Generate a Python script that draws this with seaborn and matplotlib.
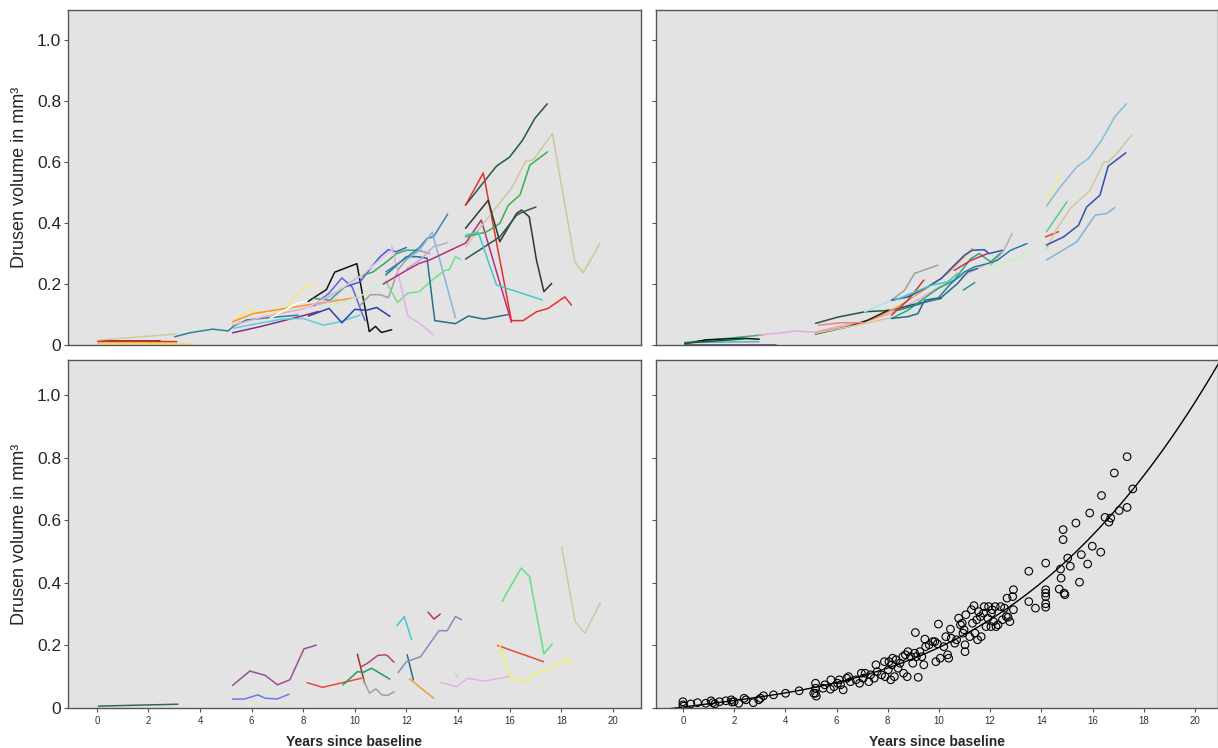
import numpy as np
import pandas as pd
import seaborn as sns
import matplotlib
import matplotlib.pyplot as plt
matplotlib.use('Agg')

# ---- top-left: individual trajectories (group A) ----
tl_x = [
    [0.05, 2.44], [0.05, 1.5, 3.09], [0.05, 3.09], [0.12, 3.73], [0.05, 3.09],
    [3.02, 3.6, 4.5, 5.09, 5.3, 5.8, 6.7, 7.8],
    [5.26, 5.93, 6.7, 7.3, 7.94, 8.1, 8.52],
    [5.26, 6.06, 7.1, 8.13, 9.03, 10.07, 10.2],
    [5.26, 6.45, 7.74, 8.5, 9.3],
    [5.26, 6.32, 7.94, 8.6],
    [5.3, 6.2, 7.2, 8.0, 8.78, 9.42, 10.2],
    [6.71, 7.74, 8.26],
    [8.19, 8.9, 9.22, 10.08, 10.56, 10.8, 11.03, 11.43],
    [8.4, 9.0, 9.5, 9.9, 10.3, 10.4],
    [8.2, 9.0, 9.5, 10.0, 10.45, 10.85, 11.36],
    [8.8, 9.6, 10.2, 10.6, 10.97, 11.3, 11.6, 12.0],
    [8.39, 9.03, 9.68, 10.2, 10.71, 11.23, 11.62, 12.0, 12.52],
    [10.2, 10.6, 11.0, 11.3, 11.7, 12.2, 12.5, 12.9],
    [8.6, 9.5, 10.2, 11.0, 11.6],
    [8.0, 9.2, 10.2, 11.5],
    [11.2, 11.65, 12.05, 12.5, 12.95, 13.5, 13.65, 13.9, 14.1],
    [11.43, 12.06, 12.52, 13.04],
    [11.2, 11.6, 12.0, 12.4, 12.8, 13.1, 13.9, 14.4, 15.0, 15.95],
    [11.2, 11.9, 12.5, 12.8, 13.05, 13.6],
    [12.0, 12.5, 13.0, 13.9],
    [12.0, 12.54, 13.04, 13.58],
    [11.1, 12.0, 12.5, 12.9, 14.3, 14.9, 16.07],
    [14.29, 14.96, 15.49, 16.0, 16.5, 16.98, 17.46],
    [14.29, 14.98, 16.07, 16.52, 17.04, 17.49, 18.14, 18.40],
    [14.29, 14.78, 15.49, 16.07, 16.63, 16.91, 17.66, 18.53, 18.85, 19.5],
    [14.29, 15.1, 15.62, 15.95, 16.4, 16.78, 17.47],
    [14.29, 15.17, 15.62, 16.27, 16.46, 16.76, 17.04, 17.33, 17.63],
    [14.29, 15.62, 16.27, 16.52, 17.02],
    [14.29, 14.78, 15.49, 17.26],
]
tl_y = [
    [0.014, 0.014], [0.012, 0.012, 0.011], [0.008, 0.008], [0.003, 0.003], [0.016, 0.036],
    [0.027, 0.040, 0.052, 0.046, 0.062, 0.082, 0.090, 0.098],
    [0.076, 0.117, 0.095, 0.12, 0.182, 0.193, 0.198],
    [0.076, 0.103, 0.117, 0.131, 0.142, 0.156, 0.158],
    [0.065, 0.092, 0.114, 0.13, 0.15],
    [0.040, 0.060, 0.095, 0.11],
    [0.055, 0.07, 0.085, 0.087, 0.065, 0.076, 0.098],
    [0.087, 0.136, 0.147],
    [0.143, 0.182, 0.239, 0.267, 0.044, 0.061, 0.041, 0.050],
    [0.13, 0.17, 0.22, 0.19, 0.10, 0.08],
    [0.095, 0.12, 0.073, 0.117, 0.114, 0.123, 0.094],
    [0.15, 0.19, 0.207, 0.251, 0.289, 0.313, 0.306, 0.32],
    [0.153, 0.147, 0.196, 0.226, 0.240, 0.273, 0.300, 0.311, 0.311],
    [0.13, 0.165, 0.165, 0.155, 0.25, 0.30, 0.31, 0.30],
    [0.12, 0.14, 0.16, 0.2, 0.22],
    [0.115, 0.17, 0.224, 0.317],
    [0.21, 0.14, 0.17, 0.175, 0.21, 0.246, 0.246, 0.29, 0.28],
    [0.325, 0.094, 0.071, 0.033],
    [0.23, 0.26, 0.29, 0.29, 0.285, 0.08, 0.07, 0.095, 0.085, 0.10],
    [0.24, 0.28, 0.32, 0.35, 0.355, 0.43],
    [0.28, 0.31, 0.37, 0.09],
    [0.25, 0.28, 0.322, 0.336],
    [0.20, 0.245, 0.268, 0.279, 0.335, 0.41, 0.075],
    [0.459, 0.531, 0.587, 0.617, 0.672, 0.744, 0.792],
    [0.459, 0.565, 0.08, 0.08, 0.109, 0.12, 0.158, 0.131],
    [0.322, 0.377, 0.453, 0.514, 0.604, 0.607, 0.694, 0.273, 0.237, 0.333],
    [0.355, 0.371, 0.399, 0.459, 0.492, 0.590, 0.634],
    [0.383, 0.475, 0.339, 0.432, 0.443, 0.421, 0.279, 0.175, 0.202],
    [0.282, 0.355, 0.426, 0.437, 0.453],
    [0.361, 0.371, 0.197, 0.148],
]
tl_colors = [
    "#111111", "#e03020", "#f5a030", "#f0e070", "#d2c8a0", "#2f7f9f", "#f5e87a",
    "#f39a1e", "#e6a8d0", "#8b2a8b", "#5ccfd8", "#ffffff", "#111111", "#5a64e0",
    "#2c3fa8", "#3e5ec8", "#3aa75a", "#a0a0a0", "#c8f0c0", "#f0c4ec", "#6ee08a",
    "#e0b0e8", "#2b6e8a", "#3a86c0", "#86b6dc", "#c0a6e0", "#b2307e", "#1f5a40",
    "#e8302a", "#ccc89c", "#3cb04a", "#333333", "#2a5a4a", "#45c8c8",
]

# ---- top-right: individual trajectories (group B) ----
tr_x = [
    [0.07, 3.11], [0.07, 0.91, 2.34, 2.98], [0.07, 2.98], [0.07, 2.4], [0.07, 3.63],
    [2.98, 3.76, 4.4, 5.18, 6.0, 7.0, 8.0, 9.0, 10.0, 11.25, 11.77],
    [5.18, 6.08, 7.11, 8.15, 9.05, 10.09],
    [5.18, 6.47, 7.5, 8.4, 9.44, 10.34, 11.31],
    [5.18, 6.47, 7.24, 8.02],
    [5.18, 6.5, 8.15],
    [5.3, 6.2, 7.1],
    [7.1, 8.15, 9.0],
    [8.15, 8.66, 9.05, 9.96],
    [12.02, 12.54, 12.86],
    [8.15, 8.79, 9.41],
    [8.15, 8.79, 9.44, 10.09, 10.54, 11.0, 11.31, 11.77, 11.96, 12.48],
    [8.15, 8.79, 9.31, 9.96, 10.6, 11.25, 11.57, 12.02, 12.41],
    [8.15, 8.79, 9.18, 9.44, 10.09, 10.73, 11.12, 11.5],
    [8.41, 9.31, 9.96, 10.47, 11.0, 11.38, 11.89, 12.28, 12.8, 13.44],
    [8.28, 8.92, 9.7, 10.34, 10.73],
    [10.6, 11.25, 11.9],
    [10.95, 11.4],
    [11.77, 13.06, 14.16],
    [14.2, 14.74, 15.39, 15.84, 16.35, 16.87, 17.32],
    [14.2, 14.8],
    [14.2, 15.0],
    [14.16, 14.67],
    [14.2, 14.61, 15.13, 15.9, 16.44, 16.61, 17.0, 17.52],
    [14.2, 14.87, 15.45, 15.77, 16.29, 16.61, 17.3],
    [14.2, 15.39, 16.1, 16.55, 16.87],
]
tr_y = [
    [0.008, 0.033], [0.004, 0.017, 0.022, 0.019], [0.008, 0.011], [0.006, 0.02], [0.0015, 0.0015],
    [0.033, 0.039, 0.046, 0.042, 0.06, 0.075, 0.1, 0.14, 0.19, 0.24, 0.262],
    [0.071, 0.092, 0.109, 0.114, 0.134, 0.153],
    [0.040, 0.062, 0.087, 0.125, 0.182, 0.235, 0.317],
    [0.036, 0.060, 0.082, 0.114],
    [0.038, 0.06, 0.09],
    [0.065, 0.073, 0.073],
    [0.109, 0.147, 0.16],
    [0.147, 0.180, 0.235, 0.262],
    [0.262, 0.311, 0.366],
    [0.098, 0.147, 0.213],
    [0.147, 0.158, 0.185, 0.218, 0.257, 0.295, 0.311, 0.313, 0.300, 0.311],
    [0.087, 0.114, 0.147, 0.185, 0.213, 0.284, 0.300, 0.273, 0.302],
    [0.087, 0.093, 0.103, 0.147, 0.156, 0.202, 0.240, 0.251],
    [0.114, 0.136, 0.153, 0.202, 0.240, 0.256, 0.267, 0.278, 0.311, 0.333],
    [0.147, 0.169, 0.196, 0.207, 0.235],
    [0.245, 0.278, 0.3],
    [0.18, 0.205],
    [0.245, 0.284, 0.333],
    [0.456, 0.519, 0.585, 0.612, 0.672, 0.749, 0.792],
    [0.47, 0.563],
    [0.372, 0.47],
    [0.355, 0.372],
    [0.317, 0.382, 0.448, 0.508, 0.601, 0.601, 0.634, 0.689],
    [0.328, 0.355, 0.393, 0.453, 0.492, 0.587, 0.631],
    [0.279, 0.339, 0.426, 0.432, 0.451],
]
tr_colors = [
    "#3cb371", "#111111", "#40c0c0", "#1f5a40", "#6b2d6b", "#e8a8e0", "#1f5a40",
    "#f5a030", "#222222", "#d2c8a0", "#f08080", "#a8e4f0", "#a0a0a0", "#b0b0b0",
    "#d03030", "#3050b0", "#2eaa6a", "#1f6f80", "#2a7aa8", "#40c8c8", "#c03070",
    "#2a90b0", "#c8f0c0", "#86bcd8", "#f0f080", "#50d080", "#e04030", "#d0c8a0",
    "#3050b0", "#80b4d8",
]

# ---- bottom-left: individual trajectories (group C) ----
bl_x = [
    [0.06, 3.14],
    [5.26, 5.93, 6.53, 7.0, 7.48, 8.03, 8.51],
    [5.26, 5.74, 6.24, 6.53, 7.0, 7.45],
    [8.15, 8.75, 10.25],
    [10.1, 10.38],
    [9.54, 10.1, 10.33, 10.65, 11.36],
    [10.25, 10.49, 10.89, 11.2, 11.28, 11.52],
    [10.33, 10.57, 10.81, 11.05, 11.28, 11.52],
    [11.63, 11.92, 12.2],
    [12.03, 12.27],
    [12.12, 13.06],
    [11.68, 12.0, 12.55, 13.26, 13.58, 13.9, 14.14],
    [12.84, 13.07, 13.31],
    [13.31, 13.95, 14.37, 15.01, 15.96],
    [13.9, 13.98],
    [15.53, 17.31],
    [15.59, 16.04, 16.59, 16.99, 17.62, 18.18, 18.42],
    [15.72, 15.85, 16.45, 16.77, 17.33, 17.65],
    [18.02, 18.54, 18.92, 19.52],
]
bl_y = [
    [0.006, 0.012],
    [0.072, 0.118, 0.104, 0.074, 0.090, 0.189, 0.201],
    [0.028, 0.029, 0.042, 0.031, 0.029, 0.044],
    [0.081, 0.066, 0.095],
    [0.172, 0.079],
    [0.074, 0.116, 0.114, 0.127, 0.092],
    [0.132, 0.143, 0.168, 0.170, 0.166, 0.146],
    [0.090, 0.047, 0.061, 0.042, 0.040, 0.052],
    [0.263, 0.292, 0.218],
    [0.170, 0.090],
    [0.093, 0.031],
    [0.113, 0.148, 0.164, 0.247, 0.247, 0.292, 0.282],
    [0.306, 0.284, 0.300],
    [0.082, 0.068, 0.095, 0.086, 0.100],
    [0.11, 0.095],
    [0.2, 0.148],
    [0.207, 0.095, 0.082, 0.111, 0.127, 0.159, 0.136],
    [0.34, 0.362, 0.447, 0.42, 0.173, 0.204],
    [0.514, 0.276, 0.239, 0.337],
]
bl_colors = [
    "#2e6b4a", "#9b4f8f", "#6a7ae8", "#e84a3a", "#a0302a", "#2a9a5a", "#c0407a",
    "#a0a0a0", "#40c8d0", "#2a6a8a", "#f0a030", "#8a8ac0", "#c0305a", "#e8b0e0",
    "#d0d0d0", "#e84a3a", "#f0f060", "#60e080", "#d0c8a0",
]

# ---- bottom-right: all observations ----
sc_x = [0, 0, 0.03, 0.31, 0.57, 0.89, 1.10, 1.17, 1.25, 1.43, 1.68, 1.89, 1.92, 2.00, 2.18,
        2.39, 2.46, 2.75, 2.96, 3.03, 3.15, 3.54, 4.01, 4.54,
        5.18, 5.18, 5.18, 5.21, 5.11, 5.47, 5.54, 5.76, 5.78, 5.90, 6.04, 6.11, 6.16, 6.26,
        6.40, 6.47, 6.54, 6.76, 6.90, 6.97, 7.04, 7.12, 7.26, 7.33, 7.47, 7.54, 7.59, 7.76,
        7.87, 7.90, 8.02, 8.05, 8.12, 8.16, 8.19, 8.26, 8.33, 8.40, 8.48, 8.59, 8.62, 8.69,
        8.76, 8.79, 8.90, 8.98, 9.05, 9.08, 9.12, 9.19, 9.26, 9.33, 9.41, 9.45, 9.48, 9.62,
        9.76, 9.84, 9.88, 9.94, 9.98, 10.05, 10.19, 10.27, 10.34, 10.38, 10.45, 10.48, 10.62,
        10.69, 10.77, 10.84, 10.91, 10.94, 10.98, 11.02, 11.02, 11.05, 11.20, 11.27, 11.31,
        11.37, 11.41, 11.48, 11.51, 11.55, 11.62, 11.65, 11.74, 11.77, 11.84, 11.91, 11.94,
        12.03, 12.05, 12.08, 12.13, 12.20, 12.23, 12.31, 12.41, 12.48, 12.56, 12.63, 12.66,
        12.70, 12.77, 12.88, 12.91, 12.91, 13.51, 13.51, 13.77, 14.17, 14.17, 14.17, 14.17,
        14.17, 14.17, 14.70, 14.75, 14.77, 14.85, 14.85, 14.89, 14.92, 15.03, 15.13, 15.35,
        15.49, 15.56, 15.81, 15.89, 15.99, 16.32, 16.35, 16.49, 16.64, 16.71, 16.85, 17.04,
        17.35, 17.35, 17.57]
sc_y = [0.020, 0.010, 0.006, 0.013, 0.017, 0.015, 0.023, 0.017, 0.013, 0.020, 0.023, 0.026,
        0.019, 0.020, 0.015, 0.031, 0.026, 0.017, 0.026, 0.031, 0.039, 0.042, 0.047, 0.055,
        0.079, 0.063, 0.047, 0.038, 0.047, 0.063, 0.074, 0.060, 0.090, 0.068, 0.079, 0.090,
        0.074, 0.058, 0.095, 0.100, 0.084, 0.090, 0.079, 0.111, 0.095, 0.111, 0.084, 0.106,
        0.095, 0.138, 0.116, 0.106, 0.148, 0.100, 0.122, 0.148, 0.090, 0.138, 0.159, 0.100,
        0.154, 0.127, 0.143, 0.164, 0.111, 0.170, 0.100, 0.180, 0.164, 0.143, 0.175, 0.241,
        0.164, 0.098, 0.180, 0.164, 0.138, 0.220, 0.196, 0.202, 0.212, 0.212, 0.148, 0.205,
        0.268, 0.159, 0.196, 0.228, 0.170, 0.159, 0.252, 0.223, 0.207, 0.218, 0.287, 0.266,
        0.271, 0.239, 0.250, 0.202, 0.180, 0.298, 0.228, 0.314, 0.271, 0.327, 0.239, 0.282,
        0.218, 0.308, 0.292, 0.228, 0.303, 0.324, 0.260, 0.287, 0.324, 0.260, 0.303, 0.314,
        0.276, 0.324, 0.260, 0.266, 0.324, 0.282, 0.319, 0.292, 0.351, 0.290, 0.276, 0.356,
        0.378, 0.314, 0.437, 0.340, 0.319, 0.463, 0.378, 0.367, 0.356, 0.333, 0.322, 0.380,
        0.444, 0.415, 0.538, 0.570, 0.367, 0.362, 0.479, 0.453, 0.591, 0.402, 0.490, 0.460,
        0.623, 0.517, 0.498, 0.679, 0.609, 0.594, 0.607, 0.751, 0.631, 0.641, 0.803, 0.700]

y_ticks = [0, 0.2, 0.4, 0.6, 0.8, 1.0]
y_ticklabels = ["0", "0.2", "0.4", "0.6", "0.8", "1.0"]
x_ticks = [0, 2, 4, 6, 8, 10, 12, 14, 16, 18, 20]


def long_df(xs, ys, prefix):
    rows = []
    for i, (xx, yy) in enumerate(zip(xs, ys)):
        for a, b in zip(xx, yy):
            rows.append((f"{prefix}{i:02d}", a, b))
    return pd.DataFrame(rows, columns=["subject", "years", "volume"])


sns.set_theme(style="white")
plt.rcParams['font.family'] = ['Liberation Sans', 'DejaVu Sans']

fig = plt.figure(figsize=(12.18, 7.48), dpi=100)
ax_tl = fig.add_axes([0.0558, 0.5388, 0.4704, 0.4479])
ax_tr = fig.add_axes([0.5386, 0.5388, 0.4614, 0.4479])
ax_bl = fig.add_axes([0.0558, 0.0535, 0.4704, 0.4652])
ax_br = fig.add_axes([0.5386, 0.0535, 0.4614, 0.4652])

for ax, xs, ys, cols, tag in [(ax_tl, tl_x, tl_y, tl_colors, "a"),
                              (ax_tr, tr_x, tr_y, tr_colors, "b"),
                              (ax_bl, bl_x, bl_y, bl_colors, "c")]:
    df = long_df(xs, ys, tag)
    levels = list(dict.fromkeys(df["subject"]))
    pal = dict(zip(levels, cols))
    sns.lineplot(data=df, x="years", y="volume", hue="subject", hue_order=levels,
                 palette=pal, units="subject", estimator=None, sort=False,
                 legend=False, lw=1.1, ax=ax)

# scatter of all observations with fitted curve
ax_br.set_xlim(-1.05, 20.9)
sns.scatterplot(x=sc_x, y=sc_y, ax=ax_br, marker="o", s=30,
                facecolors="none", edgecolor="black", linewidth=0.8)
sns.regplot(x=sc_x, y=sc_y, ax=ax_br, order=3, ci=None, scatter=False,
            truncate=False, line_kws=dict(color="black", lw=1.0))

for ax, left, top_row in [(ax_tl, True, True), (ax_tr, False, True),
                          (ax_bl, True, False), (ax_br, False, False)]:
    ax.set_facecolor("#e3e3e3")
    if left:
        ax.set_xlim(-1.12, 21.09)
    else:
        ax.set_xlim(-1.05, 20.9)
    ax.set_ylim(0, 1.10 if top_row else 1.112)
    for sp in ax.spines.values():
        sp.set_color("#555555")
        sp.set_linewidth(1.0)
    ax.set_yticks(y_ticks)
    if left:
        ax.set_yticklabels(y_ticklabels, fontsize=12.5)
        ax.set_ylabel("Drusen volume in mm³", fontsize=13, labelpad=6)
    else:
        ax.set_yticklabels([])
        ax.set_ylabel("")
    ax.tick_params(axis="y", which="both", left=True, length=3, width=0.8,
                   color="#555555", pad=2)
    if top_row:
        ax.set_xticks([])
        ax.set_xlabel("")
    else:
        ax.set_xticks(x_ticks)
        ax.set_xticklabels([str(t) for t in x_ticks], fontsize=7, color="#333333")
        ax.tick_params(axis="x", bottom=True, length=3, width=0.8, color="#555555", pad=3)
        ax.set_xlabel("Years since baseline", fontsize=10, fontweight="bold", labelpad=6)

fig.savefig("out.png", dpi=100, facecolor="white")
